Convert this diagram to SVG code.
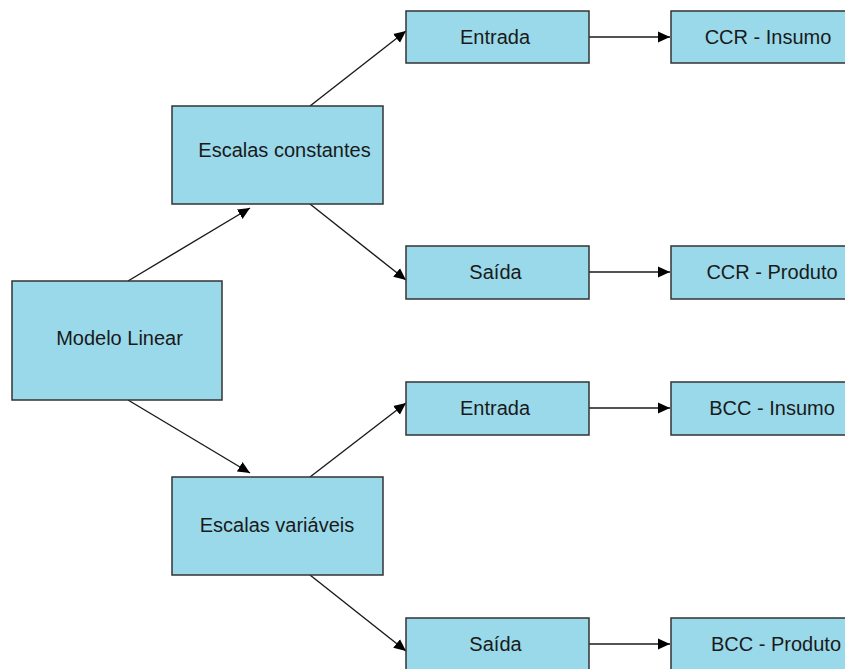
<svg xmlns="http://www.w3.org/2000/svg" width="845" height="669" viewBox="0 0 845 669">
  <style>
    .box { fill: #99d9ea; stroke: #333333; stroke-width: 1.5; }
    .lbl { font-family: "Liberation Sans", Arial, sans-serif; font-size: 20px; fill: #1a1a1a; text-anchor: middle; }
    .edge { stroke: #1a1a1a; stroke-width: 1.4; fill: none; marker-end: url(#arrow); }
  </style>
  <defs>
    <marker id="arrow" viewBox="0 0 12 12" refX="12" refY="6" markerWidth="12" markerHeight="12" markerUnits="userSpaceOnUse" orient="auto">
      <path d="M0,0.5 L12,6 L0,11.5 z" fill="#000000"/>
    </marker>
  </defs>
  <rect width="845" height="669" fill="#ffffff"/>

  <g id="connectors">
    <line class="edge" x1="128" y1="281" x2="250" y2="208"/>
    <line class="edge" x1="128" y1="400" x2="250" y2="473"/>
    <line class="edge" x1="310" y1="106" x2="406" y2="31"/>
    <line class="edge" x1="310" y1="204" x2="406" y2="280"/>
    <line class="edge" x1="310" y1="477" x2="406" y2="403"/>
    <line class="edge" x1="310" y1="575" x2="406" y2="651"/>
    <line class="edge" x1="589" y1="37" x2="670" y2="37"/>
    <line class="edge" x1="589" y1="272" x2="670" y2="272"/>
    <line class="edge" x1="589" y1="408" x2="670" y2="408"/>
    <line class="edge" x1="589" y1="644" x2="670" y2="644"/>
  </g>

  <g id="modelo-linear">
    <rect class="box" x="12" y="281" width="210" height="119"/>
    <text class="lbl" x="119.5" y="345">Modelo Linear</text>
  </g>
  <g id="escalas-constantes">
    <rect class="box" x="172" y="106" width="211" height="98"/>
    <text class="lbl" x="284.5" y="157">Escalas constantes</text>
  </g>
  <g id="escalas-variaveis">
    <rect class="box" x="172" y="477" width="211" height="98"/>
    <text class="lbl" x="277" y="532">Escalas variáveis</text>
  </g>
  <g id="entrada-ccr">
    <rect class="box" x="406" y="11" width="183" height="52"/>
    <text class="lbl" x="495" y="44">Entrada</text>
  </g>
  <g id="saida-ccr">
    <rect class="box" x="406" y="246" width="183" height="53"/>
    <text class="lbl" x="495.5" y="279">Saída</text>
  </g>
  <g id="entrada-bcc">
    <rect class="box" x="406" y="382" width="183" height="53"/>
    <text class="lbl" x="495" y="415">Entrada</text>
  </g>
  <g id="saida-bcc">
    <rect class="box" x="406" y="618" width="183" height="60"/>
    <text class="lbl" x="495.5" y="651">Saída</text>
  </g>
  <g id="ccr-insumo">
    <rect class="box" x="671" y="11" width="200" height="52"/>
    <text class="lbl" x="768" y="44">CCR - Insumo</text>
  </g>
  <g id="ccr-produto">
    <rect class="box" x="671" y="246" width="200" height="53"/>
    <text class="lbl" x="772" y="279">CCR - Produto</text>
  </g>
  <g id="bcc-insumo">
    <rect class="box" x="671" y="382" width="200" height="53"/>
    <text class="lbl" x="772" y="415">BCC - Insumo</text>
  </g>
  <g id="bcc-produto">
    <rect class="box" x="671" y="618" width="200" height="60"/>
    <text class="lbl" x="776" y="651">BCC - Produto</text>
  </g>
</svg>
